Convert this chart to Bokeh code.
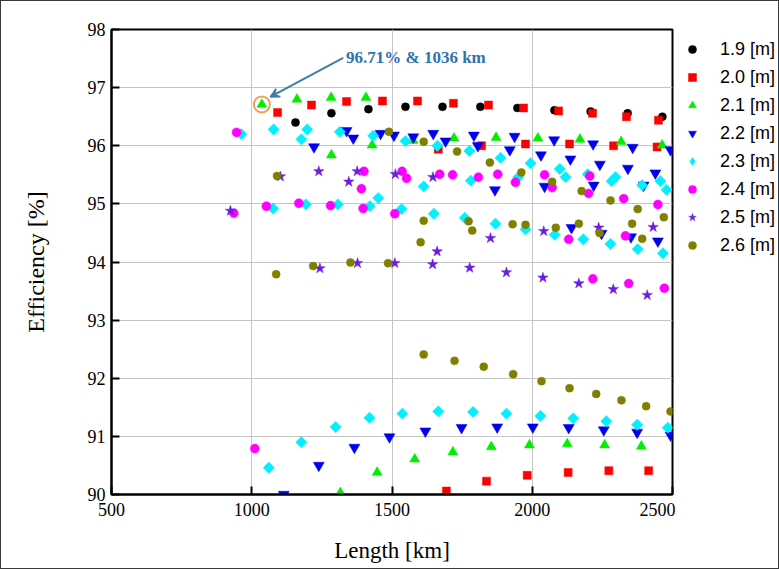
from bokeh.plotting import figure
from bokeh.layouts import row
from bokeh.models import Legend, LegendItem, Label, Arrow, VeeHead, FixedTicker
from bokeh.embed import file_html
from bokeh.resources import INLINE

# ---------------- data ----------------
x_ticks = [500, 1000, 1500, 2000, 2500]
y_ticks = [90, 91, 92, 93, 94, 95, 96, 97, 98]

len_19 = [1156, 1284, 1416, 1548, 1680, 1815, 1947, 2079, 2208, 2340, 2464]
eff_19 = [96.40, 96.56, 96.63, 96.67, 96.67, 96.67, 96.65, 96.61, 96.59, 96.56, 96.50]

len_20 = [1092, 1213, 1338, 1466, 1591, 1719, 1844, 1969, 2094, 2215, 2336, 2450,
          1665, 1819, 1976, 2133, 2290, 2445,
          1694, 1837, 1982, 2128, 2273, 2415]
eff_20 = [96.57, 96.70, 96.76, 96.77, 96.77, 96.73, 96.70, 96.65, 96.60, 96.56, 96.50, 96.44,
          95.94, 96.00, 96.03, 96.03, 96.00, 95.98,
          90.06, 90.23, 90.33, 90.38, 90.41, 90.41]

len_21 = [1036, 1161, 1283, 1407,
          1284, 1429, 1575, 1721, 1871, 2020, 2170, 2317, 2463,
          1316, 1447, 1581, 1717, 1854, 1990, 2125, 2258, 2389]
eff_21 = [96.71, 96.80, 96.83, 96.83,
          95.84, 96.01, 96.09, 96.13, 96.14, 96.13, 96.11, 96.07, 96.01,
          90.03, 90.38, 90.61, 90.73, 90.82, 90.85, 90.87, 90.85, 90.83]

len_22 = [1338, 1459, 1576, 1647, 1792, 1937, 2078, 2217, 2358, 2493,
          1222, 1362, 1507, 1691, 1806, 1920, 2031, 2136, 2241, 2341, 2439,
          1867, 2044, 2219, 2397,
          2140, 2247, 2352, 2448,
          1114, 1239, 1366, 1491, 1619, 1748, 1875, 2002, 2130, 2255, 2374, 2493]
eff_22 = [96.26, 96.21, 96.15, 96.21, 96.18, 96.16, 96.10, 96.03, 95.97, 95.93,
          95.98, 96.13, 96.18, 96.08, 96.00, 95.93, 95.84, 95.77, 95.68, 95.61, 95.53,
          95.24, 95.30, 95.32, 95.32,
          94.59, 94.49, 94.43, 94.36,
          90.00, 90.50, 90.81, 90.99, 91.09, 91.15, 91.16, 91.16, 91.15, 91.11, 91.07, 91.02]

len_23 = [963, 1078, 1198, 1314, 1433, 1548, 1662, 1776, 1887, 1994, 2098, 2198, 2297, 2392, 2479,
          1177,
          1451, 1613, 1781, 1950, 2119, 2283, 2457,
          1076, 1193, 1307, 1421, 1534, 1649, 1759, 1869, 1976, 2080, 2182, 2279, 2376, 2466,
          1061, 1177, 1299, 1420, 1537, 1665, 1789, 1908, 2029, 2146, 2264, 2374, 2483]
eff_23 = [96.20, 96.28, 96.28, 96.24, 96.17, 96.08, 96.00, 95.91, 95.79, 95.70, 95.60, 95.51, 95.46, 95.32, 95.24,
          96.11,
          95.10, 95.30, 95.40, 95.46, 95.46, 95.39, 95.39,
          94.92, 94.99, 94.99, 94.96, 94.91, 94.83, 94.76, 94.66, 94.56, 94.47, 94.39, 94.31, 94.22, 94.15,
          90.46, 90.90, 91.16, 91.32, 91.39, 91.43, 91.42, 91.39, 91.35, 91.31, 91.26, 91.20, 91.15]

len_24 = [946, 936, 1052, 1168, 1281, 1397, 1510, 1391, 1400, 1536, 1552, 1670, 1716, 1808,
          1877, 1940, 2044, 2071, 2205, 2201, 2326, 2448, 2130, 2332, 2216, 2344, 2471, 1011]
eff_24 = [96.23, 94.84, 94.96, 95.01, 94.97, 94.92, 94.83, 95.26, 95.56, 95.56, 95.44, 95.51, 95.50, 95.46,
          95.51, 95.37, 95.50, 95.28, 95.48, 95.18, 95.09, 94.99, 94.39, 94.45, 93.71, 93.63, 93.55, 90.79]

len_25 = [924, 1102, 1239, 1346, 1376, 1512, 1646,
          1243, 1377, 1510, 1645, 1777, 1908, 2038, 2166, 2289, 2410,
          1661, 1851, 2041, 2237, 2431]
eff_25 = [94.88, 95.47, 95.56, 95.38, 95.56, 95.51, 95.46,
          93.89, 93.98, 93.98, 93.96, 93.90, 93.82, 93.73, 93.63, 93.53, 93.43,
          94.18, 94.41, 94.53, 94.59, 94.60]

len_26 = [1090, 1489, 1613, 1732, 1849, 1961, 2071, 2176, 2279, 2376, 2469,
          1087, 1219, 1352, 1486,
          1613, 1602, 1773, 1786, 1930, 1976, 2084, 2166, 2240, 2356, 2392,
          1613, 1723, 1827, 1932, 2033, 2133, 2228, 2318, 2406, 2493]
eff_26 = [95.48, 96.24, 96.07, 95.90, 95.71, 95.54, 95.38, 95.22, 95.06, 94.91, 94.77,
          93.79, 93.93, 93.99, 93.98,
          94.71, 94.34, 94.70, 94.54, 94.65, 94.64, 94.59, 94.66, 94.50, 94.66, 94.40,
          92.41, 92.30, 92.20, 92.07, 91.95, 91.83, 91.73, 91.62, 91.52, 91.43]

labels = ["1.9 [m]", "2.0 [m]", "2.1 [m]", "2.2 [m]", "2.3 [m]", "2.4 [m]", "2.5 [m]", "2.6 [m]"]

best_len = 1036
best_eff = 96.71
note_text = "96.71% & 1036 km"

# ---------------- main figure ----------------
SERIF = "Liberation Serif"
SANS = "Liberation Sans"

p = figure(width=674, height=567, x_range=(500, 2500), y_range=(90, 98),
           output_backend="svg", toolbar_location=None,
           min_border_left=110, min_border_right=3, min_border_top=28, min_border_bottom=74,
           background_fill_color="white", border_fill_color="white")

p.outline_line_color = "black"
p.outline_line_width = 2
p.outline_line_alpha = 1

p.xaxis.axis_label = "Length [km]"
p.yaxis.axis_label = "Efficiency [%]"
for ax in (p.xaxis[0], p.yaxis[0]):
    ax.axis_line_width = 2
    ax.axis_line_color = "black"
    ax.major_tick_in = 8
    ax.major_tick_out = 0
    ax.major_tick_line_width = 2
    ax.minor_tick_line_color = None
    ax.major_label_text_font = SERIF
    ax.major_label_text_font_size = "18px"
    ax.major_label_text_color = "black"
    ax.axis_label_text_font = SERIF
    ax.axis_label_text_font_style = "normal"
    ax.axis_label_text_color = "black"

p.xaxis.ticker = FixedTicker(ticks=x_ticks)
p.yaxis.ticker = FixedTicker(ticks=y_ticks)
p.xaxis.axis_label_text_font_size = "23px"
p.yaxis.axis_label_text_font_size = "24px"
p.xaxis.major_label_standoff = 8
p.yaxis.major_label_standoff = 6
p.xaxis.axis_label_standoff = 19
p.yaxis.axis_label_standoff = 36

p.xgrid.ticker = FixedTicker(ticks=x_ticks)
p.ygrid.ticker = FixedTicker(ticks=y_ticks)
p.grid.grid_line_color = "#c4c4c4"
p.grid.grid_line_width = 1

# (lengths, efficiencies, marker, colour, size, angle, legend marker, legend size)
styles = [
    (len_19, eff_19, "circle", "black", 8, 0.0, "circle", 8),
    (len_20, eff_20, "square", "#ff0000", 8, 0.0, "square", 8),
    (len_21, eff_21, "triangle", "#00ee00", 10, 0.0, "triangle", 10),
    (len_22, eff_22, "inverted_triangle", "#0000ee", 11, 0.0, "inverted_triangle", 11),
    (len_23, eff_23, "square", "#00f0ff", 8, 0.785398, "diamond", 12),
    (len_24, eff_24, "circle", "#ff00ff", 9, 0.0, "circle", 9),
    (len_25, eff_25, "star", "#6a1fe0", 11, 0.0, "star", 11),
    (len_26, eff_26, "circle", "#7f7f00", 8, 0.0, "circle", 8),
]

for xs, ys, mk, col, sz, ang, _lm, _ls in styles:
    p.scatter(xs, ys, marker=mk, size=sz, angle=ang, fill_color=col, line_color=col, line_width=0.5)

# highlighted optimum
p.scatter([best_len], [best_eff], marker="circle", size=16, fill_color=None,
          line_color="#f0a050", line_width=2)

p.add_layout(Arrow(end=VeeHead(size=9, line_color="#3d7ea6", fill_color="#3d7ea6", line_width=1.5),
                   x_start=best_len + 290, y_start=best_eff + 0.80,
                   x_end=best_len + 30, y_end=best_eff + 0.13,
                   line_color="#3d7ea6", line_width=2))
p.add_layout(Label(x=best_len + 300, y=best_eff + 0.80, text=note_text,
                   text_font=SERIF, text_font_size="17px", text_font_style="bold",
                   text_color="#2f72b0", text_baseline="middle"))

# ---------------- legend figure (outside the plot box) ----------------
lg = figure(width=103, height=567, x_range=(0, 1), y_range=(0, 1),
            output_backend="svg", toolbar_location=None,
            min_border=0, background_fill_color="white", border_fill_color="white")
lg.axis.visible = False
lg.grid.visible = False
lg.outline_line_color = None

items = []
for (xs, ys, mk, col, sz, ang, lm, ls), lab in zip(styles, labels):
    # legend swatch only: a single hidden point outside the visible range
    r = lg.scatter(x=[-5], y=[-5], marker=lm, size=ls,
                   fill_color=col, line_color=col, line_width=0.5)
    items.append(LegendItem(label=lab, renderers=[r]))

legend = Legend(items=items, location=(7, 235), orientation="vertical",
                label_text_font=SANS, label_text_font_size="18px", label_text_color="black",
                glyph_width=20, glyph_height=28, label_height=28, spacing=0,
                label_standoff=18, padding=0, margin=0,
                background_fill_alpha=0, border_line_color=None)
lg.add_layout(legend)

layout = row(p, lg, spacing=0)
layout.styles = {"border": "1px solid #3a3a3a"}

open("out.html", "w").write(file_html(layout, INLINE))
